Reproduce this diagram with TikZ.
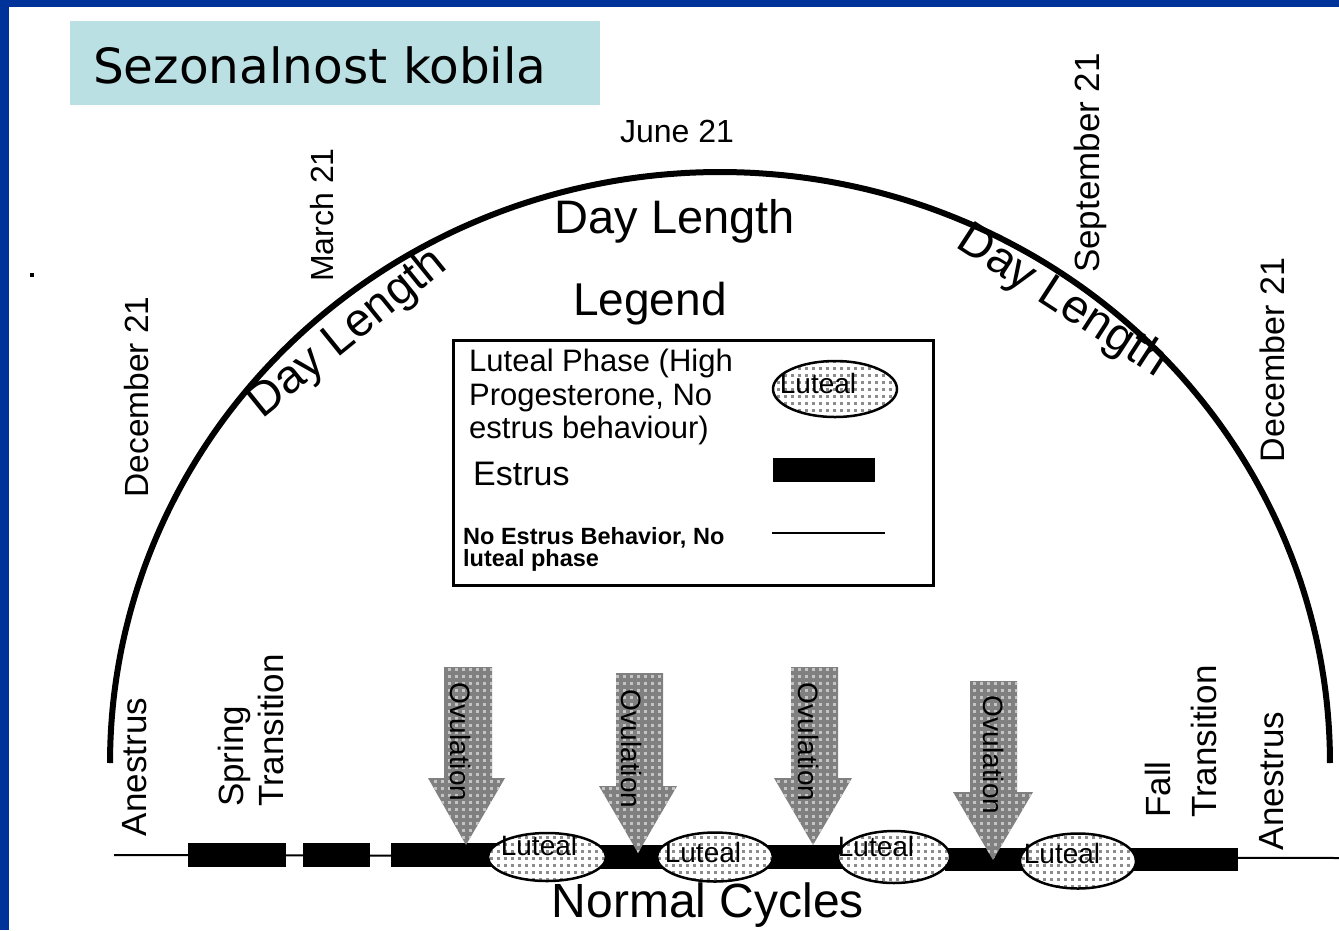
\documentclass[tikz,border=0pt]{standalone}
\usepackage{fontspec}
\setmainfont{Liberation Sans}
\newfontfamily\titlefont{DejaVu Sans}
\usetikzlibrary{shapes.geometric,patterns.meta}
\definecolor{frameblue}{RGB}{0,51,153}
\definecolor{titlebg}{RGB}{187,224,227}
\definecolor{arrowgray}{RGB}{128,128,128}
\definecolor{dotlight}{RGB}{196,196,196}
\definecolor{dotgray}{RGB}{140,140,140}
\newcommand\myfs[2]{\fontsize{#1}{#2}\selectfont}
\tikzdeclarepattern{
  name=pixdots,
  type=uncolored,
  bottom left={(-0.5pt,-0.5pt)},
  top right={(7.5pt,7.5pt)},
  tile size={(7pt,7pt)},
  code={\fill (0pt,0pt) rectangle (2.6pt,2.6pt);}
}
\begin{document}
\begin{tikzpicture}[x=1pt,y=-1pt,
  lbl/.style={inner sep=0pt},
  vlbl/.style={inner sep=0pt, rotate=90, font=\myfs{34}{36}},
  estrusbar/.style={fill=black},
  ovarrow/.style={preaction={fill=arrowgray}, pattern=pixdots, pattern color=dotlight},
  ovtxt/.style={inner sep=0pt, rotate=-90, font=\myfs{28}{30}},
  lutealell/.style={ellipse, draw, line width=2.5pt, inner sep=0pt, preaction={fill=white}, pattern=pixdots, pattern color=dotgray},
  luttxt/.style={inner sep=0pt, font=\myfs{28}{30}},
  daylen/.style={inner sep=0pt, font=\myfs{47}{50}}
]
\useasboundingbox (0,0) rectangle (1339,930);
\fill[white] (0,0) rectangle (1339,930);
% frame
\fill[frameblue] (0,0) rectangle (1339,7);
\fill[frameblue] (0,0) rectangle (9,930);
\fill[black] (30,273) rectangle (34,277);

% title
\node[fill=titlebg, minimum width=530pt, minimum height=84pt, inner sep=0pt] (titlebox) at (335,63) {};
\node[lbl, anchor=base west, font=\titlefont\myfs{48.5}{50}] (titletext) at (93,83) {Sezonalnost kobila};

% day length arc
\draw[line width=6pt] plot[domain=180:360, samples=150, smooth] ({720+610*cos(\x)},{763+591*sin(\x)});

% date labels
\node[lbl, anchor=base, font=\myfs{32}{34}] (june) at (677,142) {June 21};
\node[vlbl, font=\myfs{32}{34}] (march) at (322,215) {March 21};
\node[vlbl, font=\myfs{33.5}{35}] (decL) at (137,397) {December 21};
\node[vlbl, font=\myfs{35}{37}] (sept) at (1090,163) {September 21};
\node[vlbl, font=\myfs{34}{36}] (decR) at (1272,360) {December 21};

% Day Length labels
\node[daylen, anchor=base] (dlTop) at (675,233) {Day Length};
\node[daylen, rotate=39] (dlLeft) at (348,334) {Day Length};
\node[daylen, rotate=-33] (dlRight) at (1062,302) {Day Length};

% legend
\node[lbl, anchor=base, font=\myfs{46}{48}] (legendtitle) at (650,315) {Legend};
\draw[line width=3pt] (453,340) rectangle (933,585);
\node[lbl, anchor=north west, align=left, font=\myfs{31}{33.5}] (lgLut) at (469,349) {Luteal Phase (High\\Progesterone, No\\estrus behaviour)};
\node[lutealell, minimum width=124pt, minimum height=56pt] (lgEll) at (835,389) {};
\node[luttxt] (lgEllTxt) at (818,383) {Luteal};
\node[lbl, anchor=base west, font=\myfs{34}{36}] (lgEst) at (473,485) {Estrus};
\fill[black] (773,458) rectangle (875,482);
\node[lbl, anchor=north west, align=left, font=\bfseries\myfs{23.5}{22}] (lgNo) at (463,527) {No Estrus Behavior, No\\luteal phase};
\draw[line width=2pt] (772,533) -- (885,533);

% cycle baseline
\coordinate (lineL) at (114,855);
\coordinate (lineR) at (1339,858);
\draw[line width=2pt] (lineL) -- (lineR);
\fill[estrusbar] (188,843) rectangle (286,867);
\fill[estrusbar] (303,843) rectangle (370,867);
\fill[estrusbar] (391,843) rectangle (500,867);
\fill[estrusbar] (600,845) rectangle (665,869);
\fill[estrusbar] (765,845) rectangle (845,869);
\fill[estrusbar] (945,848) rectangle (1025,871);
\fill[estrusbar] (1130,848) rectangle (1238,871);

% ovulation arrows
\path[ovarrow] (444,667) -- (492,667) -- (492,778) -- (505,778) -- (466,845) -- (428,778) -- (444,778) -- cycle;
\path[ovarrow] (616,673) -- (663,673) -- (663,786) -- (677,786) -- (638,853) -- (599,786) -- (616,786) -- cycle;
\path[ovarrow] (791,667) -- (838,667) -- (838,778) -- (852,778) -- (813,845) -- (774,778) -- (791,778) -- cycle;
\path[ovarrow] (970,681) -- (1017,681) -- (1017,792) -- (1033,792) -- (993,860) -- (953,792) -- (970,792) -- cycle;
\node[ovtxt] (ov1) at (461,742) {Ovulation};
\node[ovtxt] (ov2) at (632,749) {Ovulation};
\node[ovtxt] (ov3) at (808,742) {Ovulation};
\node[ovtxt] (ov4) at (993,755) {Ovulation};

% luteal ellipses
\node[lutealell, minimum width=118pt, minimum height=48pt] (e1) at (547,857) {};
\node[lutealell, minimum width=116pt, minimum height=49pt] (e2) at (715,857) {};
\node[lutealell, minimum width=112pt, minimum height=52pt] (e3) at (894,857) {};
\node[lutealell, minimum width=116pt, minimum height=55pt] (e4) at (1078,861) {};
\node[luttxt] (e1t) at (539,845) {Luteal};
\node[luttxt] (e2t) at (703,852) {Luteal};
\node[luttxt] (e3t) at (876,846) {Luteal};
\node[luttxt] (e4t) at (1062,853) {Luteal};

% season labels
\node[vlbl, font=\myfs{35}{37}] (anL) at (135,767) {Anestrus};
\node[lbl, rotate=90, anchor=north west, align=left, font=\myfs{35}{40}] (spring) at (218,807) {Spring\\Transition};
\node[lbl, rotate=90, anchor=north west, align=left, font=\myfs{35}{46}] (fall) at (1145,818) {Fall\\Transition};
\node[vlbl, font=\myfs{35}{37}] (anR) at (1272,781) {Anestrus};

\node[lbl, anchor=base, font=\myfs{48}{50}] (normal) at (708,917) {Normal Cycles};
\end{tikzpicture}
\end{document}
